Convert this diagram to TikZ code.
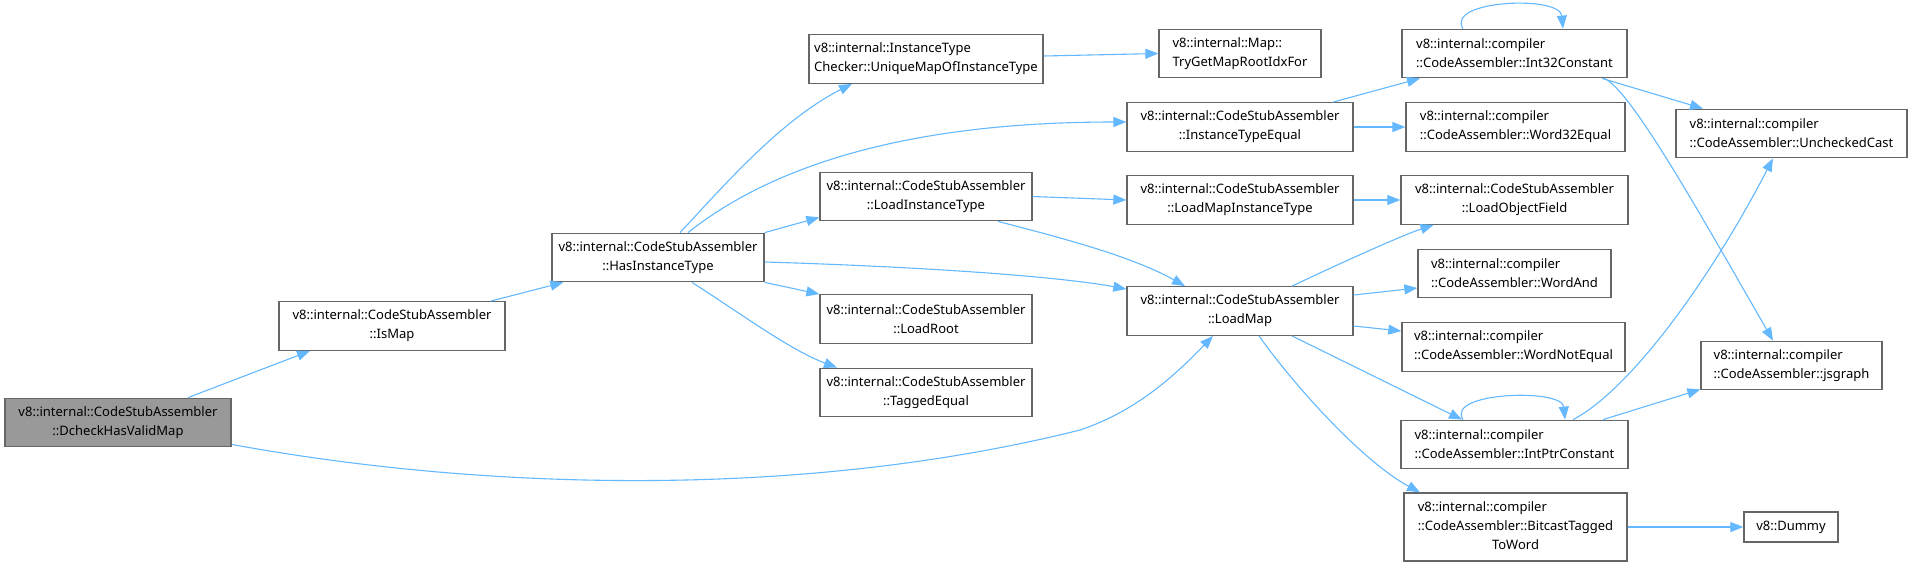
\documentclass[tikz,border=0pt]{standalone}
\usepackage{fontspec}
\setmainfont{Noto Sans}
\usepackage{tikz}
\usetikzlibrary{arrows.meta}
\definecolor{edgeblue}{HTML}{63B8FF}
\definecolor{boxline}{HTML}{666666}
\definecolor{rootfill}{HTML}{999999}
\tikzset{
  gbox/.style={draw=boxline,fill=white,line width=1.3pt,inner sep=0pt,minimum height=48.5pt,align=center},
  gleft/.style={gbox,align=left},
  groot/.style={gbox,fill=rootfill},
  garr/.style={-{Triangle[length=13pt,width=10pt]},line width=1.1pt,draw=edgeblue}
}

\begin{document}
\begin{tikzpicture}[x=1pt,y=-1pt,font=\fontsize{13}{19}\selectfont]
  \useasboundingbox (0,0) rectangle (1912,566);
  % columns, left to right
  \node[groot,minimum width=226pt] (dchk) at (118,422.5) {v8::internal::CodeStubAssembler\\::DcheckHasValidMap};
  \node[gbox,minimum width=226pt] (ismap) at (392,326) {v8::internal::CodeStubAssembler\\::IsMap};
  \node[gbox,minimum width=212pt] (hasit) at (658,257.5) {v8::internal::CodeStubAssembler\\::HasInstanceType};
  \node[gleft,minimum width=234pt] (uniq) at (926,59) {v8::internal::InstanceType\\Checker::UniqueMapOfInstanceType};
  \node[gbox,minimum width=212pt] (ldit) at (926,196.5) {v8::internal::CodeStubAssembler\\::LoadInstanceType};
  \node[gbox,minimum width=212pt] (ldroot) at (926,319) {v8::internal::CodeStubAssembler\\::LoadRoot};
  \node[gbox,minimum width=212pt] (tageq) at (926,392.5) {v8::internal::CodeStubAssembler\\::TaggedEqual};
  \node[gleft,minimum width=162pt] (tryget) at (1240,53.5) {v8::internal::Map::\\TryGetMapRootIdxFor};
  \node[gbox,minimum width=226pt] (iteq) at (1240,127) {v8::internal::CodeStubAssembler\\::InstanceTypeEqual};
  \node[gbox,minimum width=226pt] (ldmit) at (1240,200) {v8::internal::CodeStubAssembler\\::LoadMapInstanceType};
  \node[gbox,minimum width=226pt] (ldmap) at (1240,311) {v8::internal::CodeStubAssembler\\::LoadMap};
  \node[gleft,minimum width=225pt] (i32) at (1514.5,53.5) {v8::internal::compiler\\::CodeAssembler::Int32Constant};
  \node[gleft,minimum width=219pt] (w32eq) at (1515.5,127) {v8::internal::compiler\\::CodeAssembler::Word32Equal};
  \node[gbox,minimum width=227pt] (ldof) at (1514.5,200) {v8::internal::CodeStubAssembler\\::LoadObjectField};
  \node[gleft,minimum width=193pt] (wand) at (1514.5,273.5) {v8::internal::compiler\\::CodeAssembler::WordAnd};
  \node[gleft,minimum width=223pt] (wneq) at (1513.5,347) {v8::internal::compiler\\::CodeAssembler::WordNotEqual};
  \node[gleft,minimum width=227pt] (iptr) at (1514.5,444.5) {v8::internal::compiler\\::CodeAssembler::IntPtrConstant};
  \node[gbox,minimum width=223pt,minimum height=68pt] (bitcast) at (1515.5,527) {\begin{tabular}{@{}l@{}}v8::internal::compiler\\::CodeAssembler::BitcastTagged\\\multicolumn{1}{@{}c@{}}{ToWord}\end{tabular}};
  \node[gleft,minimum width=231pt] (ucast) at (1791.5,133.5) {v8::internal::compiler\\::CodeAssembler::UncheckedCast};
  \node[gleft,minimum width=181pt] (jsg) at (1791.5,365.5) {v8::internal::compiler\\::CodeAssembler::jsgraph};
  \node[gbox,minimum width=94pt,minimum height=30pt] (dummy) at (1791,527) {v8::Dummy};

  % calls
  \draw[garr] ([xshift=70pt]dchk.north) -- ([xshift=-82pt]ismap.south);
  \draw[garr] ([yshift=3pt]dchk.south east) .. controls (480,490) and (800,500) .. (1080,430)
    .. controls (1140,410) and (1180,370) .. ([xshift=-27pt]ldmap.south);
  \draw[garr] ([xshift=-15pt]ismap.north east) -- ([xshift=12pt]hasit.south west);
  \draw[garr] ([xshift=22pt]hasit.north) .. controls (720,190) and (780,120) .. ([xshift=-74pt]uniq.south);
  \draw[garr] ([xshift=30pt]hasit.north) .. controls (768,169) and (900,122) .. ([yshift=5pt]iteq.west);
  \draw[garr] (hasit.north east) -- ([yshift=4pt]ldit.south west);
  \draw[garr] ([yshift=-4.5pt]hasit.east) .. controls (900,266) and (1050,275) .. ([yshift=22pt]ldmap.west);
  \draw[garr] (hasit.south east) -- (ldroot.north west);
  \draw[garr] ([xshift=34pt]hasit.south) .. controls (740,313) and (790,350) .. ([xshift=-89pt]tageq.north);
  \draw[garr] ([yshift=3pt]uniq.east) -- (tryget.west);
  \draw[garr] ([xshift=93pt]iteq.north) -- ([xshift=-94.5pt]i32.south);
  \foreach \a/\b in {iteq/w32eq,ldit/ldmit,ldmit/ldof,bitcast/dummy}
    \draw[garr] (\a.east) -- (\b.west);
  \draw[garr] ([xshift=72pt]ldit.south) .. controls (1050,235) and (1130,255) .. ([xshift=-55pt]ldmap.north);
  \draw[garr] ([xshift=52pt]ldmap.north) .. controls (1330,268) and (1400,236) .. ([xshift=-81pt]ldof.south);
  \draw[garr] ([yshift=16pt]ldmap.east) -- ([yshift=-14.5pt]wand.west);
  \draw[garr] ([yshift=-15pt]ldmap.east) -- ([yshift=16pt]wneq.west);
  \draw[garr] ([xshift=52pt]ldmap.south) -- ([xshift=-52.5pt]iptr.north);
  \draw[garr] ([xshift=19pt]ldmap.south) .. controls (1290,380) and (1360,460) .. ([xshift=-95.5pt]bitcast.north);
  % self calls
  \draw[garr] ([xshift=-51.5pt]i32.north) .. controls (1445,0) and (1560,-5) .. ([xshift=48.5pt]i32.north);
  \draw[garr] ([xshift=-51.5pt]iptr.north) .. controls (1445,392) and (1562,388) .. ([xshift=50.5pt]iptr.north);
  \draw[garr] ([xshift=87.5pt]i32.south) -- ([xshift=-88.5pt]ucast.north);
  \draw[garr] ([xshift=89.5pt]i32.south) .. controls (1630,88) and (1703,219) .. ([xshift=-18.5pt]jsg.north);
  \draw[garr] ([xshift=58.5pt]iptr.north) .. controls (1630,390) and (1710,280) .. ([xshift=-18.5pt]ucast.south);
  \draw[garr] ([xshift=88.5pt]iptr.north) -- ([yshift=1pt]jsg.south west);
\end{tikzpicture}
\end{document}
